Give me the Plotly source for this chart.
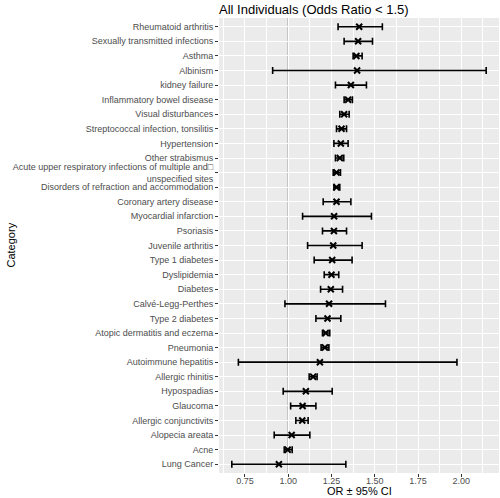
import plotly.graph_objects as go

categories = [
    "Rheumatoid arthritis", "Sexually transmitted infections", "Asthma", "Albinism",
    "kidney failure", "Inflammatory bowel disease", "Visual disturbances",
    "Streptococcal infection, tonsilitis", "Hypertension", "Other strabismus",
    "Acute upper respiratory infections of multiple and\u25a1<br>unspecified sites",
    "Disorders of refraction and accommodation", "Coronary artery disease",
    "Myocardial infarction", "Psoriasis", "Juvenile arthritis", "Type 1 diabetes",
    "Dyslipidemia", "Diabetes", "Calvé-Legg-Perthes", "Type 2 diabetes",
    "Atopic dermatitis and eczema", "Pneumonia", "Autoimmune hepatitis",
    "Allergic rhinitis", "Hypospadias", "Glaucoma", "Allergic conjunctivits",
    "Alopecia areata", "Acne", "Lung Cancer",
]
odds_ratio = [1.410, 1.404, 1.394, 1.398, 1.362, 1.346, 1.323, 1.308, 1.304, 1.298,
              1.279, 1.279, 1.279, 1.265, 1.264, 1.260, 1.254, 1.250, 1.246, 1.236,
              1.227, 1.217, 1.212, 1.183, 1.144, 1.102, 1.083, 1.081, 1.020, 0.997, 0.946]
ci_lower = [1.288, 1.323, 1.375, 0.910, 1.273, 1.323, 1.298, 1.279, 1.264, 1.273,
            1.260, 1.264, 1.202, 1.083, 1.198, 1.112, 1.150, 1.208, 1.187, 0.981,
            1.160, 1.198, 1.190, 0.712, 1.121, 0.971, 1.014, 1.044, 0.919, 0.977, 0.674]
ci_upper = [1.544, 1.487, 1.427, 2.144, 1.452, 1.371, 1.352, 1.337, 1.346, 1.321,
            1.302, 1.298, 1.362, 1.481, 1.337, 1.427, 1.369, 1.292, 1.314, 1.562,
            1.304, 1.240, 1.235, 1.975, 1.167, 1.254, 1.160, 1.115, 1.125, 1.023, 1.333]
x_ticks = [0.75, 1.00, 1.25, 1.50, 1.75, 2.00]
x_tick_labels = ["0.75", "1.00", "1.25", "1.50", "1.75", "2.00"]
x_minor = [0.625, 0.875, 1.125, 1.375, 1.625, 1.875, 2.125]

err_plus = [u - o for u, o in zip(ci_upper, odds_ratio)]
err_minus = [o - l for o, l in zip(odds_ratio, ci_lower)]

FONT = "Liberation Sans, Arial, sans-serif"

fig = go.Figure()
fig.add_trace(go.Scatter(
    x=odds_ratio, y=categories, mode="markers",
    marker=dict(symbol="x-thin", size=6, line=dict(width=2, color="black"), color="black"),
    error_x=dict(type="data", symmetric=False, array=err_plus, arrayminus=err_minus,
                 color="black", thickness=1.6, width=3.5),
    showlegend=False,
))

fig.add_shape(type="line", xref="x", yref="paper", x0=1, x1=1, y0=0, y1=1,
              line=dict(color="#7a7a7a", width=1.1), layer="between")

fig.add_annotation(text="OR ± 95% CI", xref="paper", yref="paper", x=0.5, y=0,
                   yshift=-18, xanchor="center", yanchor="middle", showarrow=False,
                   font=dict(size=11, color="black", family=FONT))
fig.add_annotation(text="Category", xref="paper", yref="paper", x=0, y=0.5,
                   xshift=-209, xanchor="center", yanchor="middle", textangle=-90,
                   showarrow=False, font=dict(size=11, color="black", family=FONT))

n = len(categories)
fig.update_layout(
    width=500, height=498,
    margin=dict(l=219, r=1, t=18, b=25),
    paper_bgcolor="white", plot_bgcolor="#EBEBEB",
    font=dict(family=FONT, color="black"),
    title=dict(text="All Individuals (Odds Ratio < 1.5)", x=0, xref="paper",
               xanchor="left", y=1 - 9/498, yref="container", yanchor="middle",
               pad=dict(l=0), automargin=False,
               font=dict(size=13, color="black", family=FONT)),
    xaxis=dict(
        range=[0.6, 2.218], tickvals=x_ticks, ticktext=x_tick_labels,
        showgrid=True, gridcolor="white", gridwidth=1.1, zeroline=False,
        ticks="outside", ticklen=3, tickcolor="#333333", tickwidth=1,
        tickfont=dict(size=9, color="#4D4D4D", family=FONT),
        ticklabelstandoff=-4,
        minor=dict(tickvals=x_minor, showgrid=True, gridcolor="white", gridwidth=0.5, ticks=""),
        showline=False, automargin=False,
    ),
    yaxis=dict(
        type="category", categoryorder="array", categoryarray=categories,
        range=[n - 1 + 0.6, -0.6],
        showgrid=True, gridcolor="white", gridwidth=1.1, zeroline=False,
        ticks="outside", ticklen=3, tickcolor="#333333", tickwidth=1,
        tickfont=dict(size=9, color="#4D4D4D", family=FONT),
        showline=False, automargin=False,
    ),
)

fig.write_html("out.html", config={"displayModeBar": False},
               post_script="document.body.style.margin='0';document.body.style.overflow='hidden';")
